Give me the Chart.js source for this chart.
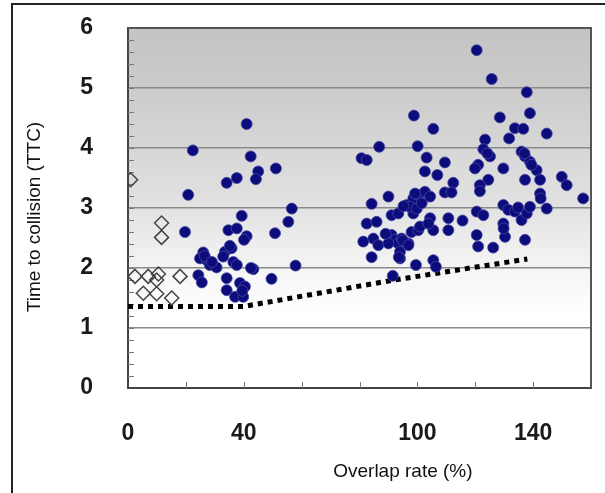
<!DOCTYPE html>
<html>
<head>
<meta charset="utf-8">
<script src="https://cdn.jsdelivr.net/npm/chart.js@4.4.1/dist/chart.umd.min.js"></script>
<style>
  html, body { margin: 0; padding: 0; background: #fff; }
</style>
</head>
<body>
<canvas id="ttc" width="605" height="493"></canvas>
<script>
// vehicles, overlap rate vs TTC
const circleX = [
  22.4, 20.8, 19.7, 41, 42.4, 45, 44.2, 51.1, 37.6, 34.1,
  39.3, 34.7, 37.6, 41, 40.1, 50.8, 55.4, 56.6, 57.9, 49.6,
  43.3, 42.5, 26, 24.9, 27.2, 28.3, 30.6, 33.5, 32.9, 35.8,
  36.4, 37.6, 34.1, 24.3, 25.5, 34.1, 38.7, 40.4, 37, 39.8,
  39.5, 35.2, 26.5, 29,
  80.7, 82.5, 86.8, 84.2, 90, 96.3, 98.6, 100.3, 102.6, 104.4,
  98.6, 97.4, 99.8, 101.5, 91.1, 93.4, 82.5, 85.9, 81.3, 84.8,
  86.5, 91.1, 92.3, 93.4, 90, 94.6, 96.9, 84.2, 94, 94,
  98, 100.3, 100.9, 104.4, 105.5, 103.8, 110.7, 110.7, 115.6, 99.5,
  105.5, 106.4, 91.5, 98.8, 105.5, 100.1, 103.2, 109.5, 102.6, 106.9,
  112.4, 109.5, 111.8, 99.2, 89, 95, 93.6, 96.9, 95.2,
  120.5, 125.7, 137.8, 138.9, 128.5, 133.7, 136.6, 144.7, 131.7, 123.4,
  122.8, 125.1, 136, 137.2, 138.9, 121, 119.9, 129.7, 141.2, 142.4,
  149.9, 151.6, 157.3, 137.2, 124.5, 121.6, 121.6, 142.4, 142.6, 144.7,
  120.5, 122.8, 120.5, 121, 126.2, 129.7, 131.4, 133.7, 129.7, 130.3,
  136, 137.8, 138.9, 137.2, 124.2, 139.4, 137, 134.8, 129.8
];
const circleY = [
  3.96, 3.22, 2.6, 4.4, 3.86, 3.61, 3.48, 3.66, 3.5, 3.42,
  2.87, 2.63, 2.66, 2.53, 2.47, 2.58, 2.77, 2.99, 2.04, 1.82,
  1.98, 2.0, 2.26, 2.16, 2.13, 2.05, 2.01, 2.27, 2.19, 2.33,
  2.1, 2.05, 1.83, 1.88, 1.76, 1.63, 1.75, 1.69, 1.52, 1.52,
  1.62, 2.37, 2.2, 2.1,
  3.83, 3.8, 4.02, 3.07, 3.19, 3.05, 3.16, 3.22, 3.27, 3.19,
  2.91, 3.02, 2.99, 3.08, 2.88, 2.91, 2.74, 2.77, 2.44, 2.49,
  2.38, 2.55, 2.47, 2.41, 2.41, 2.49, 2.41, 2.18, 2.27, 2.16,
  2.6, 2.63, 2.69, 2.83, 2.63, 2.74, 2.83, 2.63, 2.79, 2.05,
  2.13, 2.02, 1.87, 4.54, 4.32, 4.03, 3.84, 3.76, 3.61, 3.55,
  3.42, 3.26, 3.26, 3.24, 2.57, 2.46, 2.18, 2.38, 3.03,
  5.63, 5.15, 4.93, 4.58, 4.51, 4.33, 4.32, 4.24, 4.16, 4.14,
  3.98, 3.86, 3.94, 3.86, 3.77, 3.72, 3.66, 3.66, 3.63, 3.47,
  3.52, 3.38, 3.16, 3.47, 3.47, 3.38, 3.28, 3.24, 3.16, 2.99,
  2.94, 2.88, 2.55, 2.36, 2.34, 3.05, 2.97, 2.94, 2.74, 2.52,
  2.8, 2.91, 3.02, 2.47, 3.91, 3.72, 3.91, 3.01, 2.66
];

// pedestrians / open diamonds
const diamondX = [0.9, 11.6, 11.6, 2.4, 7, 10.5, 9.9, 18, 5.3, 9.9, 15.1];
const diamondY = [3.47, 2.75, 2.51, 1.86, 1.86, 1.9, 1.8, 1.86, 1.58, 1.57, 1.5];

// dotted threshold line
const lineX = [0, 40, 92, 138];
const lineY = [1.36, 1.36, 1.8, 2.15];

const xLabels = [0, 40, 100, 140];

const toPoints = (xs, ys) => xs.map((x, i) => ({ x: x, y: ys[i] }));

const plotDeco = {
    id: "plotDeco",
    beforeDraw(chart) {
        const { ctx, chartArea: a } = chart;
        ctx.save();
        ctx.fillStyle = "#fff";
        ctx.fillRect(0, 0, chart.width, chart.height);
        const g = ctx.createLinearGradient(0, a.top, 0, a.bottom);
        g.addColorStop(0, "#c4c4c4");
        g.addColorStop(0.15, "#cacaca");
        g.addColorStop(0.5, "#e2e2e2");
        g.addColorStop(0.68, "#f6f6f6");
        g.addColorStop(0.8, "#ffffff");
        ctx.fillStyle = g;
        ctx.fillRect(a.left, a.top, a.right - a.left, a.bottom - a.top);
        // outer frame
        ctx.strokeStyle = "#222";
        ctx.lineWidth = 2;
        ctx.beginPath();
        ctx.moveTo(12, chart.height);
        ctx.lineTo(12, 4);
        ctx.lineTo(chart.width, 4);
        ctx.stroke();
        ctx.restore();
    },
    beforeDatasetsDraw(chart) {
        const { ctx, chartArea: a, scales } = chart;
        ctx.save();
        ctx.strokeStyle = "#777";
        ctx.lineWidth = 1;
        ctx.beginPath();
        for (let v = 0.2; v < 6; v += 0.2) {
            const py = Math.round(scales.y.getPixelForValue(v)) + 0.5;
            ctx.moveTo(a.left, py);
            ctx.lineTo(a.left + 6, py);
        }
        for (let v = 20; v < 160; v += 20) {
            const px = Math.round(scales.x.getPixelForValue(v)) + 0.5;
            ctx.moveTo(px, a.bottom);
            ctx.lineTo(px, a.bottom - 6);
        }
        ctx.stroke();
        ctx.restore();
    },
    afterDraw(chart) {
        const { ctx, chartArea: a, scales } = chart;
        ctx.save();
        ctx.strokeStyle = "#555";
        ctx.lineWidth = 2;
        ctx.beginPath();
        ctx.moveTo(a.left, a.top);
        ctx.lineTo(a.right, a.top);
        ctx.lineTo(a.right, a.bottom);
        ctx.stroke();

        ctx.fillStyle = "#111";
        ctx.font = "19px 'Liberation Sans', Arial, sans-serif";
        ctx.textAlign = "center";
        ctx.textBaseline = "middle";
        ctx.fillText("Overlap rate (%)", scales.x.getPixelForValue(95), 472);
        ctx.translate(35, scales.y.getPixelForValue(2.85));
        ctx.rotate(-Math.PI / 2);
        ctx.fillText("Time to collision (TTC)", 0, 0);
        ctx.restore();
    },
};

const config = {
    type: "scatter",
    data: {
        datasets: [
            {
                label: "vehicle",
                data: toPoints(circleX, circleY),
                backgroundColor: "#0c0c7c",
                borderColor: "rgba(70,70,160,0.8)",
                borderWidth: 1,
                pointRadius: 5.5,
            },
            {
                label: "pedestrian",
                data: toPoints(diamondX, diamondY),
                pointStyle: "rectRot",
                backgroundColor: "rgba(0,0,0,0)",
                borderColor: "#444",
                borderWidth: 1.5,
                pointRadius: 7,
            },
            {
                label: "limit",
                type: "line",
                data: toPoints(lineX, lineY),
                borderColor: "#000",
                borderWidth: 5,
                borderDash: [5, 5],
                pointRadius: 0,
                fill: false,
                tension: 0,
            },
        ],
    },
    options: {
        responsive: false,
        animation: false,
        events: [],
        layout: { padding: { left: 0, top: 28, right: 14, bottom: 0 } },
        plugins: {
            legend: { display: false },
            tooltip: { enabled: false },
        },
        scales: {
            x: {
                type: "linear",
                min: 0,
                max: 160,
                afterFit: (s) => {
                    s.height = 105;
                    s.paddingLeft = 0;
                    s.paddingRight = 0;
                },
                grid: { display: false, drawTicks: false },
                border: { color: "#444", width: 2 },
                ticks: {
                    stepSize: 20,
                    autoSkip: false,
                    maxRotation: 0,
                    padding: 32,
                    color: "#1a1a1a",
                    font: { family: "'Liberation Sans', Arial, sans-serif", size: 23, weight: "bold" },
                    callback: (v) => (xLabels.includes(v) ? String(v) : ""),
                },
            },
            y: {
                min: 0,
                max: 6,
                afterFit: (s) => {
                    s.width = 128;
                    s.paddingTop = 0;
                    s.paddingBottom = 0;
                },
                grid: {
                    drawTicks: false,
                    color: "#8a8a8a",
                    lineWidth: 1.5,
                },
                border: { color: "#444", width: 2 },
                ticks: {
                    stepSize: 1,
                    padding: 35,
                    color: "#1a1a1a",
                    font: { family: "'Liberation Sans', Arial, sans-serif", size: 23, weight: "bold" },
                },
            },
        },
    },
    plugins: [plotDeco],
};

const ttcChart = new Chart(document.getElementById("ttc"), config);
</script>
</body>
</html>
